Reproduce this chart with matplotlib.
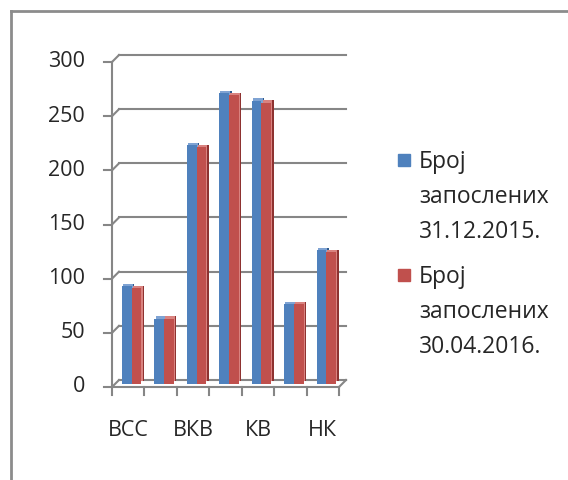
import numpy as np
import matplotlib
matplotlib.use('Agg')
import matplotlib.pyplot as plt
from matplotlib.transforms import offset_copy
from matplotlib.lines import Line2D
from matplotlib.patches import Rectangle

plt.rcParams['font.family'] = ['Open Sans', 'DejaVu Sans']

# categories (only every second label is visible in the original)
categories = ['ВСС', '', 'ВКВ', '', 'КВ', '', 'НК']
series_names = ['Број\nзапослених\n31.12.2015.', 'Број\nзапослених\n30.04.2016.']
employees_2015 = [90, 60, 220, 268, 261, 73, 123]
employees_2016 = [88, 60, 218, 266, 259, 73, 121]
y_ticks = [0, 50, 100, 150, 200, 250, 300]

colors = ['#4F81BD', '#C0504D']
side_colors = ['#2F5A8E', '#8E3230']
top_colors = ['#7FA3D3', '#D98380']
grid_col = '#868686'

W, H = 568, 480
fig = plt.figure(figsize=(W / 100, H / 100), dpi=100)
# axes = middle depth of the pseudo 3D box
ax = fig.add_axes([115.5 / W, 1 - 383.5 / H, 227 / W, 325 / H])
ax.set_xlim(-0.5, len(categories) - 0.5)
ax.set_ylim(0, 300)
ax.axis('off')

d = 3.5  # depth offset in pixels
back = offset_copy(ax.transData, fig, x=d, y=d, units='dots')
front = offset_copy(ax.transData, fig, x=-d, y=-d, units='dots')

x = np.arange(len(categories))
bw = 0.3

# back wall gridlines + left wall diagonals
for v in y_ticks:
    ax.plot([-0.5, len(categories) - 0.5], [v, v], color=grid_col, lw=1.5,
            transform=back, clip_on=False, zorder=1)
    p0 = ax.transData.transform((-0.5, v))
    fig.add_artist(Line2D([p0[0] - d, p0[0] + d], [p0[1] - d, p0[1] + d],
                          transform=None, color=grid_col, lw=1.5))
# floor right diagonal
p1 = ax.transData.transform((len(categories) - 0.5, 0))
fig.add_artist(Line2D([p1[0] - d, p1[0] + d], [p1[1] - d, p1[1] + d],
                      transform=None, color=grid_col, lw=1.5))

# bars with a small 3D look
for i, vals in enumerate([employees_2015, employees_2016]):
    xs = x - bw + i * bw
    ax.bar(xs, vals, bw, align='edge', color=side_colors[i], zorder=2,
           transform=offset_copy(ax.transData, fig, x=2.5, y=2.5, units='dots'))
    ax.bar(xs, vals, bw, align='edge', color=top_colors[i], zorder=2.5,
           transform=offset_copy(ax.transData, fig, x=1.2, y=2.5, units='dots'))
    ax.bar(xs, vals, bw, align='edge', color=colors[i], zorder=3)

# front axes
ax.plot([-0.5, -0.5], [0, 300], color=grid_col, lw=1.5, transform=front, clip_on=False)
ax.plot([-0.5, len(categories) - 0.5], [0, 0], color=grid_col, lw=1.5,
        transform=front, clip_on=False)
for v in y_ticks:
    p = ax.transData.transform((-0.5, v))
    fig.add_artist(Line2D([p[0] - d - 8, p[0] - d], [p[1] - d, p[1] - d],
                          transform=None, color=grid_col, lw=1.5))
    ax.text(-0.5, v, str(v), transform=offset_copy(ax.transData, fig, x=-d - 27, y=-d, units='dots'),
            ha='right', va='center', fontsize=15.5, color='#262626')
for k in range(len(categories) + 1):
    p = ax.transData.transform((k - 0.5, 0))
    fig.add_artist(Line2D([p[0] - d, p[0] - d], [p[1] - d, p[1] - d - 8],
                          transform=None, color=grid_col, lw=1.5))
for k, lab in enumerate(categories):
    ax.text(k, 0, lab, transform=offset_copy(ax.transData, fig, x=-d, y=-d - 43, units='dots'),
            ha='center', va='center', fontsize=15.5, color='#262626')

# legend
leg_top = [160, 275]
for i, name in enumerate(series_names):
    fig.add_artist(Rectangle((398 / W, 1 - (leg_top[i] + 6) / H), 12 / W, 12 / H,
                             transform=fig.transFigure, color=colors[i]))
    fig.text(419 / W, 1 - (leg_top[i] - 10) / H, name, ha='left', va='top',
             fontsize=16.5, color='#262626', linespacing=1.6)

# outer frame (left and top edges)
fig.add_artist(Line2D([11 / W, 11 / W], [0, 1 - 11 / H], transform=fig.transFigure,
                      color='#8C8C8C', lw=2))
fig.add_artist(Line2D([11 / W, 1], [1 - 11 / H, 1 - 11 / H], transform=fig.transFigure,
                      color='#8C8C8C', lw=2))

fig.savefig('out.png', dpi=100)
